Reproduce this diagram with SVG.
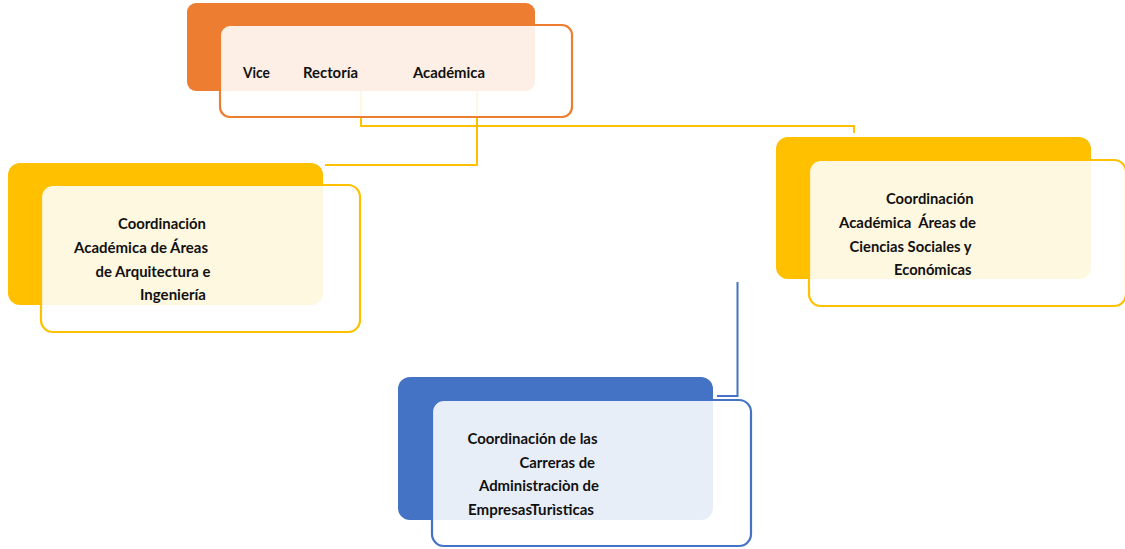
<svg xmlns="http://www.w3.org/2000/svg" width="1125" height="549" viewBox="0 0 1125 549">
<style>
.t{font-family:Lato,"Liberation Sans",sans-serif;font-weight:bold;font-size:15px;fill:#111}
.conn{fill:none;stroke:#FFC000;stroke-width:2}
.connb{fill:none;stroke:#4472C4;stroke-width:2}
.front{fill:#fff;fill-opacity:0.88;stroke-width:2.2}
</style>
<rect width="1125" height="549" fill="#fff"/>
<g id="backs">
<rect x="187" y="3" width="348" height="88" rx="9" fill="#ED7D31"/>
<rect x="8" y="163" width="315" height="142" rx="12" fill="#FFC000"/>
<rect x="776" y="137" width="315" height="142" rx="12" fill="#FFC000"/>
<rect x="398" y="377" width="315" height="143" rx="12" fill="#4472C4"/>
</g>
<g id="connectors">
<polyline class="conn" points="361,91 361,126 854,126 854,133"/>
<polyline class="conn" points="477,91 477,165 325,165"/>
<polyline class="connb" points="737.5,282 737.5,396 717,396"/>
</g>
<g id="node-vice">
<rect class="front" x="220" y="25" width="352" height="92" rx="10" stroke="#ED7D31"/>
<text class="t" x="243" y="78" textLength="27" lengthAdjust="spacingAndGlyphs">Vice</text>
<text class="t" x="303" y="78" textLength="55" lengthAdjust="spacingAndGlyphs">Rectoría</text>
<text class="t" x="413" y="78" textLength="72" lengthAdjust="spacingAndGlyphs">Académica</text>
</g>
<g id="node-arq">
<rect class="front" x="41" y="185" width="319" height="147" rx="12" stroke="#FFC000"/>
<text class="t" x="118" y="229" textLength="88" lengthAdjust="spacingAndGlyphs">Coordinación</text>
<text class="t" x="74" y="253" textLength="134" lengthAdjust="spacingAndGlyphs">Académica de Áreas</text>
<text class="t" x="95.5" y="276.5" textLength="115" lengthAdjust="spacingAndGlyphs">de Arquitectura e</text>
<text class="t" x="140" y="300" textLength="66" lengthAdjust="spacingAndGlyphs">Ingeniería</text>
</g>
<g id="node-soc">
<rect class="front" x="809" y="160" width="317" height="146" rx="12" stroke="#FFC000"/>
<text class="t" x="886" y="204" textLength="87.5" lengthAdjust="spacingAndGlyphs">Coordinación</text>
<text class="t" x="839" y="228" textLength="137" lengthAdjust="spacingAndGlyphs">Académica&#160; Áreas de</text>
<text class="t" x="849.5" y="251.5" textLength="122" lengthAdjust="spacingAndGlyphs">Ciencias Sociales y</text>
<text class="t" x="894" y="275" textLength="77.5" lengthAdjust="spacingAndGlyphs">Económicas</text>
</g>
<g id="node-tur">
<rect class="front" x="432" y="400" width="319" height="146" rx="12" stroke="#4472C4"/>
<text class="t" x="467.5" y="444" textLength="130" lengthAdjust="spacingAndGlyphs">Coordinación de las</text>
<text class="t" x="519.5" y="467.5" textLength="75.5" lengthAdjust="spacingAndGlyphs">Carreras de</text>
<text class="t" x="479" y="491" textLength="120" lengthAdjust="spacingAndGlyphs">Administraciòn de</text>
<text class="t" x="468" y="514.5" textLength="126" lengthAdjust="spacingAndGlyphs">EmpresasTurìsticas</text>
</g>
</svg>
